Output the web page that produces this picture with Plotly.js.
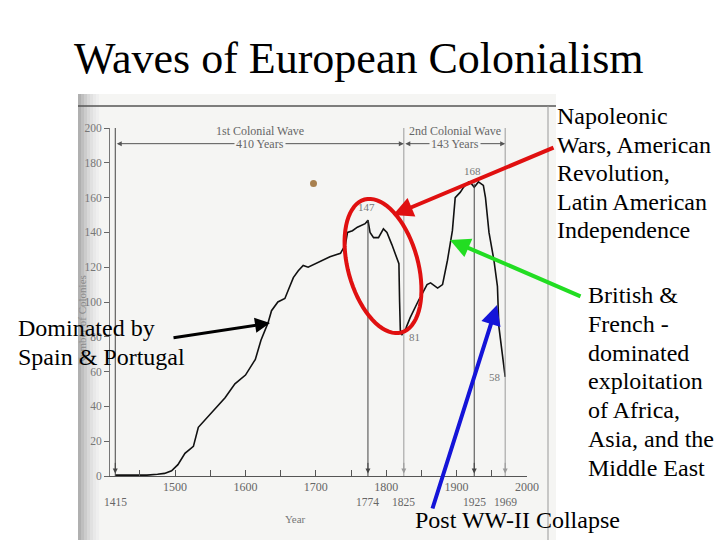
<!DOCTYPE html>
<html>
<head>
<meta charset="utf-8">
<script src="https://cdn.plot.ly/plotly-3.0.1.min.js"></script>
<style>html,body{margin:0;padding:0;background:#fff;}#chart{width:720px;height:540px;}</style>
</head>
<body>
<div id="chart"></div>
<script>
// ---- data ----
const years = [1415,1440,1460,1475,1485,1495,1500,1504,1514,1526,1533,1551,1571,1585,1600,1614,1622,1632,1637,1646,1656,1661,1668,1675,1682,1689,1700,1710,1720,1735,1742,1745,1752,1759,1766,1770,1774,1777,1782,1789,1796,1801,1808,1815,1818,1819,1820,1822,1828,1834,1846,1858,1863,1873,1880,1887,1894,1898,1905,1910,1917,1921,1925,1931,1938,1941,1946,1953,1958,1960,1965,1969];
const colonies = [0.5,0.5,0.5,1,1.5,3,5,6.5,13,17,28,36,45,53,58,67,78,88,95,100,102,107,114,118,121,120,122,124,126,128,133,140,141,143,144,145,147,140,137,137,142,140,133,126,122,100,84,81,85,91,101,110,111,108,110,124,141,160,163,166,169,168,166,169,167,160,140,124,109,86,71,57];
const eventYears = [1415,1774,1825,1925,1969];
const eventTops = [200,147,200,168,200];
const peakYears = [1774,1925,1822,1969];
const peakValues = [147,168,81,58];
const xTickVals = [1450,1500,1550,1600,1650,1700,1750,1800,1850,1900,1950,2000];
const xTickText = ['','1500','','1600','','1700','','1800','','1900','','2000'];
const yTickVals = [0,20,40,60,80,100,120,140,160,180,200];
const waves = [
  {name:'1st Colonial Wave', start:1415, end:1825, span:'410 Years'},
  {name:'2nd Colonial Wave', start:1825, end:1969, span:'143 Years'}
];
const napoleonLines = ['Napoleonic','Wars, American','Revolution,','Latin American','Independence'];
const africaLines = ['British &amp;','French -','dominated','exploitation','of Africa,','Asia, and the','Middle East'];
const iberiaLines = ['Dominated by','Spain &amp; Portugal'];
const collapseLines = ['Post WW-II Collapse'];

// ---- layout helpers (pixel -> paper) ----
const W=720,H=540,L=110,R=193,T=128,B=64;
const PW=W-L-R, PH=H-T-B;
const px = x => (x-L)/PW;
const py = y => (H-B-y)/PH;
const serif = 'Liberation Serif';
const scanBg = '#f5f5f3';

const shapes = [];
const annotations = [];
function note(o){ o.xanchor = o.xanchor||'center'; o.yanchor = o.yanchor||'middle'; if(o.showarrow===undefined) o.showarrow=false; annotations.push(o); }

// scanned page background
shapes.push({type:'rect',xref:'paper',yref:'paper',x0:px(78),x1:px(556),y0:py(540),y1:py(94),fillcolor:scanBg,line:{width:0},layer:'below'});
const grad = ['#b0b0b0','#bfbfbf','#cccccc','#d8d8d8','#e1e1e1','#e9e9e9','#efefef'];
grad.forEach((c,i)=>shapes.push({type:'rect',xref:'paper',yref:'paper',x0:px(78+i*3),x1:px(81+i*3),y0:py(540),y1:py(94),fillcolor:c,line:{width:0},layer:'below'}));
shapes.push({type:'line',xref:'paper',yref:'paper',x0:px(78),x1:px(556),y0:py(106),y1:py(106),line:{color:'#555',width:1.5}});
shapes.push({type:'line',xref:'paper',yref:'paper',x0:px(548),x1:px(548),y0:py(106),y1:py(540),line:{color:'#999',width:1}});
// stain
shapes.push({type:'circle',xref:'paper',yref:'paper',x0:px(310),x1:px(317),y0:py(187),y1:py(180),fillcolor:'#a8804e',line:{width:0}});

// event vertical lines
eventYears.forEach((yr,i)=>{
  const grey = (yr===1825||yr===1969);
  const col = grey ? '#9a9a9a' : '#444';
  shapes.push({type:'line',xref:'x',yref:'y',x0:yr,x1:yr,y0:eventTops[i],y1:-7,line:{color:col,width:1}});
  annotations.push({x:yr,y:1.5,xref:'x',yref:'y',ax:0,ay:-12,showarrow:true,arrowhead:2,arrowsize:1,arrowwidth:1,arrowcolor:col,text:''});
  note({x:yr,xref:'x',yref:'paper',y:py(502),text:String(yr),font:{family:serif,size:11.5,color:'#666'}});
});

// wave spans
waves.forEach(w=>{
  const mid=(w.start+w.end)/2;
  annotations.push({x:w.end,y:191,ax:w.start,ay:191,xref:'x',yref:'y',axref:'x',ayref:'y',showarrow:true,arrowside:'end+start',arrowhead:2,arrowsize:1,arrowwidth:1,arrowcolor:'#555',text:''});
  note({x:mid,y:191,xref:'x',yref:'y',text:w.span,bgcolor:scanBg,font:{family:serif,size:12,color:'#666'}});
  note({x:mid,y:198.5,xref:'x',yref:'y',text:w.name,font:{family:serif,size:12,color:'#666'}});
});

// peak labels
const labelShift = [[-1,13],[-2,13],[13,-2],[-10,-2]];
peakYears.forEach((yr,i)=>{
  note({x:yr,y:peakValues[i],xref:'x',yref:'y',text:String(peakValues[i]),xshift:labelShift[i][0],yshift:labelShift[i][1],font:{family:serif,size:11,color:'#777'}});
});

// axis captions
note({x:px(295),y:py(519),xref:'paper',yref:'paper',text:'Year',font:{family:serif,size:11,color:'#777'}});
note({x:px(82),y:py(320),xref:'paper',yref:'paper',text:'Number of Colonies',textangle:-90,font:{family:serif,size:11,color:'#8a8a8a'}});

// slide title
note({x:px(359),y:py(58),xref:'paper',yref:'paper',text:'Waves of European Colonialism',font:{family:serif,size:44,color:'#000'}});

// slide callouts, one annotation per line to control leading
const bodyFont = {family:serif,size:24,color:'#000'};
function block(lines,x,y0,step){
  lines.forEach((t,k)=>note({x:px(x),y:py(y0+k*step),xref:'paper',yref:'paper',xanchor:'left',align:'left',font:bodyFont,text:t}));
}
block(napoleonLines,555,116,28.5);
block(africaLines,586,295,28.8);
block(iberiaLines,16,328,29);
block(collapseLines,413,520,0);

// callout arrows (head, tail in px)
function arrow(hx,hy,tx,ty,color,w){
  annotations.push({x:px(hx),y:py(hy),xref:'paper',yref:'paper',ax:tx-hx,ay:ty-hy,showarrow:true,arrowhead:2,arrowsize:1,arrowwidth:w,arrowcolor:color,text:'',standoff:0});
}
arrow(393,215,555,147,'#e01010',4);
arrow(450,240,582,297,'#22dd22',4);
arrow(497,305,432,510,'#1414d8',4);
arrow(270,323,172,338,'#000',3);

// red ellipse around the 1st-wave collapse
(function(){
  const cx=383, cy=266, a=69, b=35;
  const ux=0.268, uy=0.963, vx=0.963, vy=-0.268;
  let d='';
  for(let k=0;k<=72;k++){
    const t=k/72*2*Math.PI;
    const X=cx+a*Math.cos(t)*ux+b*Math.sin(t)*vx;
    const Y=cy+a*Math.cos(t)*uy+b*Math.sin(t)*vy;
    d += (k===0?'M':'L')+px(X).toFixed(5)+','+py(Y).toFixed(5)+' ';
  }
  d+='Z';
  shapes.push({type:'path',xref:'paper',yref:'paper',path:d,line:{color:'#e01010',width:4}});
})();

const trace = {x:years,y:colonies,type:'scatter',mode:'lines',line:{color:'#111',width:1.6},hoverinfo:'skip'};

const layout = {
  width:W,height:H,margin:{l:L,r:R,t:T,b:B},
  font:{family:serif},
  paper_bgcolor:'#fff',plot_bgcolor:'rgba(0,0,0,0)',showlegend:false,
  xaxis:{range:[1407.5,2000],showline:true,linecolor:'#555',linewidth:1,ticks:'inside',ticklen:6,tickcolor:'#555',
    tickvals:xTickVals,ticktext:xTickText,showgrid:false,zeroline:false,tickfont:{family:serif,size:12,color:'#666'}},
  yaxis:{range:[0,200],showline:true,linecolor:'#777',linewidth:1,ticks:'outside',ticklen:5,tickcolor:'#666',
    tickvals:yTickVals,showgrid:false,zeroline:false,tickfont:{family:serif,size:11.5,color:'#777'}},
  shapes:shapes,annotations:annotations
};
Plotly.newPlot('chart',[trace],layout,{displayModeBar:false,staticPlot:true});
</script>
</body>
</html>
